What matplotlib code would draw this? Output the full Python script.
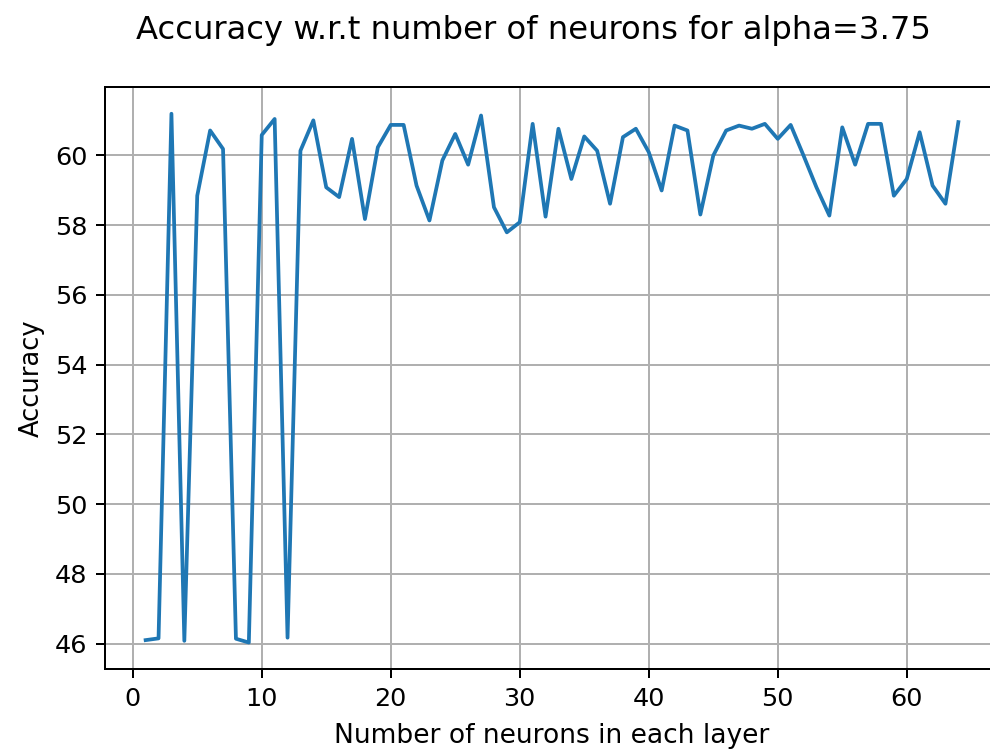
import numpy as np
import matplotlib
matplotlib.use("Agg")
import matplotlib.pyplot as plt

# number of neurons per layer
neurons = list(range(1, 65))
# accuracy
accuracy = [46.10, 46.15, 61.19, 46.08, 58.84, 60.71, 60.18, 46.14, 46.03, 60.58,
            61.04, 46.17, 60.13, 61.00, 59.08, 58.80, 60.47, 58.17, 60.23, 60.87,
            60.87, 59.13, 58.13, 59.85, 60.61, 59.73, 61.14, 58.51, 57.79, 58.08,
            60.90, 58.24, 60.76, 59.32, 60.54, 60.13, 58.61, 60.52, 60.76, 60.09,
            58.99, 60.85, 60.71, 58.30, 59.99, 60.71, 60.85, 60.76, 60.90, 60.47,
            60.87, 59.99, 59.08, 58.27, 60.80, 59.73, 60.90, 60.90, 58.84, 59.32,
            60.66, 59.13, 58.61, 60.95]

fig = plt.figure(figsize=(990 / 180, 751 / 180), dpi=180)
# axes runs slightly past the right edge, as in the cropped original
ax = fig.add_axes([105 / 990, 1 - 669 / 751, 894 / 990, (669 - 87.3) / 751])

ax.plot(neurons, accuracy, color='#1f77b4')
ax.set_xlabel('Number of neurons in each layer', fontsize=10.6, labelpad=5)
ax.set_ylabel('Accuracy', fontsize=10.3)
ax.tick_params(labelsize=10.2)
ax.grid(True)

fig.suptitle('Accuracy w.r.t number of neurons for alpha=3.75',
             x=534 / 990, y=1 - 30 / 751, va='center', fontsize=12.9)

fig.savefig('out.png', dpi=180)
